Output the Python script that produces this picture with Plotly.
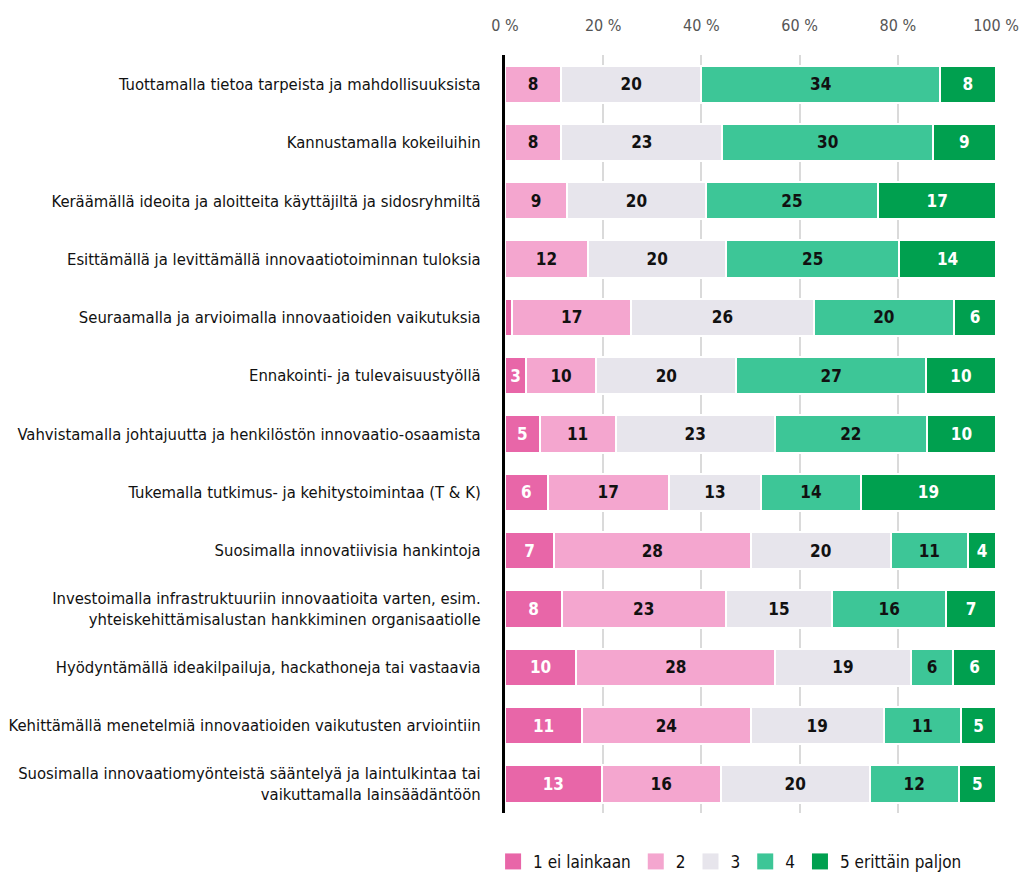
import plotly.graph_objects as go

categories = [
    "Tuottamalla tietoa tarpeista ja mahdollisuuksista",
    "Kannustamalla kokeiluihin",
    "Keräämällä ideoita ja aloitteita käyttäjiltä ja sidosryhmiltä",
    "Esittämällä ja levittämällä innovaatiotoiminnan tuloksia",
    "Seuraamalla ja arvioimalla innovaatioiden vaikutuksia",
    "Ennakointi- ja tulevaisuustyöllä",
    "Vahvistamalla johtajuutta ja henkilöstön innovaatio-osaamista",
    "Tukemalla tutkimus- ja kehitystoimintaa (T & K)",
    "Suosimalla innovatiivisia hankintoja",
    "Investoimalla infrastruktuuriin innovaatioita varten, esim.<br>yhteiskehittämisalustan hankkiminen organisaatiolle",
    "Hyödyntämällä ideakilpailuja, hackathoneja tai vastaavia",
    "Kehittämällä menetelmiä innovaatioiden vaikutusten arviointiin",
    "Suosimalla innovaatiomyönteistä sääntelyä ja laintulkintaa tai<br>vaikuttamalla lainsäädäntöön",
]

series_names = ["1 ei lainkaan", "2", "3", "4", "5 erittäin paljon"]
v1 = [0, 0, 0, 0, 1, 3, 5, 6, 7, 8, 10, 11, 13]
v2 = [8, 8, 9, 12, 17, 10, 11, 17, 28, 23, 28, 24, 16]
v3 = [20, 23, 20, 20, 26, 20, 23, 13, 20, 15, 19, 19, 20]
v4 = [34, 30, 25, 25, 20, 27, 22, 14, 11, 16, 6, 11, 12]
v5 = [8, 9, 17, 14, 6, 10, 10, 19, 4, 7, 6, 5, 5]
series_values = [v1, v2, v3, v4, v5]

tick_vals = [0, 20, 40, 60, 80, 100]
tick_text = ["0 %", "20 %", "40 %", "60 %", "80 %", "100 %"]

colors = ["#E866A8", "#F4A6CF", "#E7E5EC", "#3DC697", "#00A04F"]
text_colors = ["white", "#111111", "#111111", "#111111", "white"]

FONT = "DejaVu Sans Condensed, Liberation Sans Narrow, Arial Narrow, sans-serif"

fig = go.Figure()
for name, vals, col, tcol in zip(series_names, series_values, colors, text_colors):
    fig.add_trace(go.Bar(
        y=categories,
        x=vals,
        name=name,
        orientation="h",
        marker=dict(color=col, line=dict(color="white", width=2)),
        text=[str(v) if v > 0 else "" for v in vals],
        textposition="inside",
        insidetextanchor="middle",
        textfont=dict(color=tcol, size=17, family=FONT, weight="bold"),
        width=0.64,
        hoverinfo="skip",
        showlegend=False,
        legendgroup=name,
    ))

# legend-only entries with larger square swatches
for name, col in zip(series_names, colors):
    fig.add_trace(go.Scatter(
        x=[None], y=[None],
        mode="markers",
        name=name,
        marker=dict(symbol="square", size=22, color=col),
        legendgroup=name,
        showlegend=True,
        hoverinfo="skip",
    ))

fig.update_layout(
    barmode="stack",
    barnorm="percent",
    width=1023,
    height=875,
    margin=dict(l=505, r=27, t=55, b=62, autoexpand=False),
    plot_bgcolor="white",
    paper_bgcolor="white",
    font=dict(family=FONT, color="#111111", size=17),
    uniformtext=dict(minsize=16, mode="hide"),
    showlegend=True,
    legend=dict(
        orientation="h",
        xref="container", x=0.482, xanchor="left",
        yref="container", y=0.015, yanchor="middle",
        font=dict(size=17, family=FONT, color="#111111"),
        traceorder="normal",
        itemsizing="trace",
        itemwidth=30,
    ),
    xaxis=dict(
        side="top",
        range=[0, 100],
        tickvals=tick_vals,
        ticktext=tick_text,
        tickfont=dict(size=16, color="#555555", family=FONT),
        ticklabelstandoff=20,
        showgrid=True,
        gridcolor="#DADADA",
        gridwidth=2,
        zeroline=False,
        showline=False,
        fixedrange=True,
        automargin=False,
    ),
    yaxis=dict(
        autorange="reversed",
        tickfont=dict(size=16.5, color="#111111", family=FONT),
        ticklabelstandoff=18,
        showline=True,
        linecolor="black",
        linewidth=3,
        showgrid=False,
        fixedrange=True,
        automargin=False,
    ),
)

fig.write_html(
    "out.html",
    config={"displayModeBar": False},
    post_script="document.body.style.margin='0';document.body.style.padding='0';document.body.style.overflow='hidden';",
)
